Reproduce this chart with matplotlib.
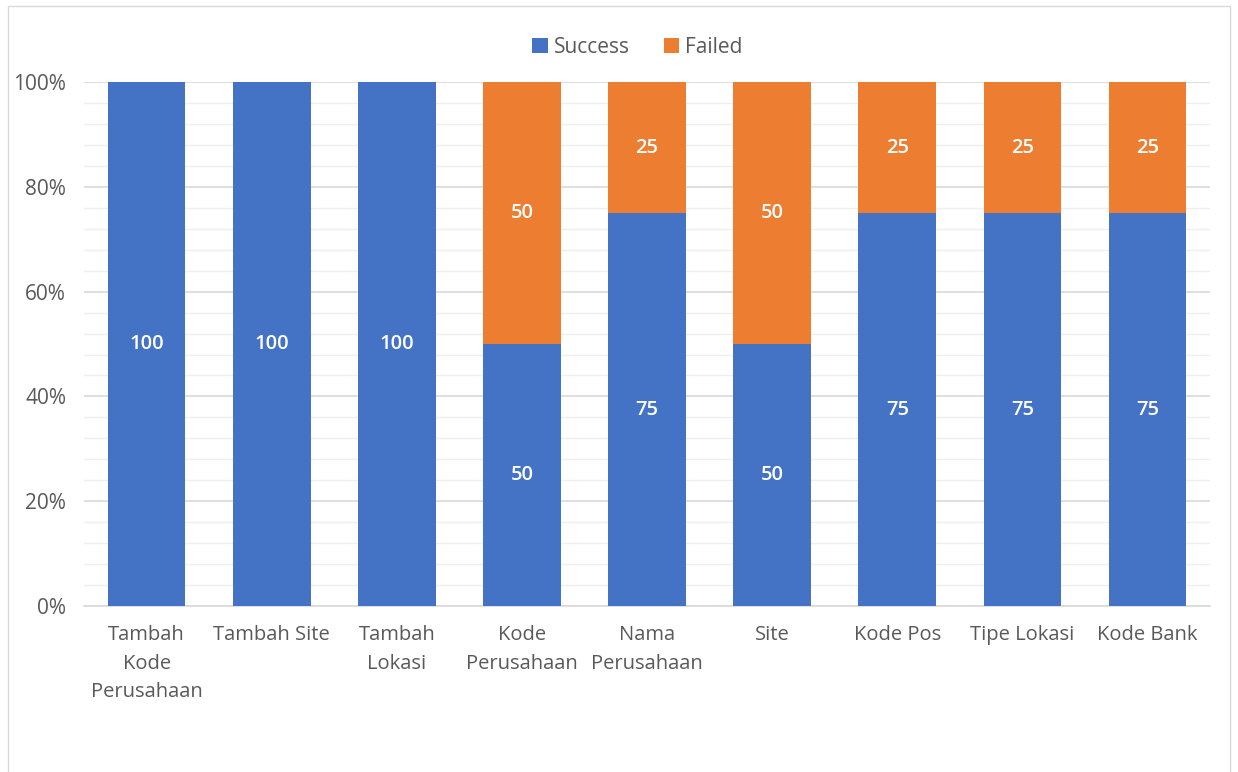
import numpy as np
import matplotlib.pyplot as plt
from matplotlib.patches import Rectangle
from matplotlib.ticker import MultipleLocator, PercentFormatter

categories = ["Tambah\nKode\nPerusahaan", "Tambah Site", "Tambah\nLokasi",
              "Kode\nPerusahaan", "Nama\nPerusahaan", "Site", "Kode Pos",
              "Tipe Lokasi", "Kode Bank"]
success = [100, 100, 100, 50, 75, 50, 75, 75, 75]
failed = [0, 0, 0, 50, 25, 50, 25, 25, 25]

blue = "#4472C4"
orange = "#ED7D31"
text_col = "#595959"

plt.rcParams["font.family"] = ["Open Sans", "DejaVu Sans"]

fig = plt.figure(figsize=(12.38, 7.72), dpi=100)
ax = fig.add_axes([0.0679, 0.215, 0.9095, 0.6787])

x = np.arange(len(categories))
total = np.array(success) + np.array(failed)
s_pct = np.array(success) / total * 100
f_pct = np.array(failed) / total * 100

b1 = ax.bar(x, s_pct, width=0.62, color=blue, label="Success", zorder=3)
b2 = ax.bar(x, f_pct, width=0.62, bottom=s_pct, color=orange, label="Failed", zorder=3)

for i in range(len(x)):
    if success[i] > 0:
        ax.text(x[i], s_pct[i] / 2, str(success[i]), ha="center", va="center",
                color="white", fontsize=14.5, fontweight="semibold", zorder=4)
    if failed[i] > 0:
        ax.text(x[i], s_pct[i] + f_pct[i] / 2, str(failed[i]), ha="center", va="center",
                color="white", fontsize=14.5, fontweight="semibold", zorder=4)

ax.set_xlim(-0.5, len(x) - 0.5)
ax.set_ylim(0, 100)
ax.yaxis.set_major_locator(MultipleLocator(20))
ax.yaxis.set_minor_locator(MultipleLocator(4))
ax.yaxis.set_major_formatter(PercentFormatter(decimals=0))
ax.grid(axis="y", which="major", color="#D9D9D9", linewidth=1.2, zorder=0)
ax.grid(axis="y", which="minor", color="#EFEFEF", linewidth=1.0, zorder=0)
ax.set_xticks(x)
ax.set_xticklabels(categories, fontsize=14.5, color=text_col, linespacing=1.55, va="top")
ax.tick_params(axis="y", labelsize=15, colors=text_col, length=0, pad=13)
ax.tick_params(axis="y", which="minor", length=0)
ax.tick_params(axis="x", length=0, pad=14)
for sp in ["top", "right", "left"]:
    ax.spines[sp].set_visible(False)
ax.spines["bottom"].set_color("#D9D9D9")
ax.spines["bottom"].set_linewidth(1.2)

fig.legend(handles=[b1, b2], labels=["Success", "Failed"], loc="center",
           bbox_to_anchor=(0.515, 0.939), ncol=2, frameon=False, fontsize=15,
           handlelength=0.75, handleheight=0.75, handletextpad=0.3, columnspacing=1.6,
           labelcolor=text_col)

fig.patches.append(Rectangle((8 / 1238, -0.01), 1222 / 1238, 1 - 6 / 772 + 0.01,
                             transform=fig.transFigure, fill=False,
                             edgecolor="#D9D9D9", linewidth=1.0))

fig.savefig("out.png", dpi=100)
